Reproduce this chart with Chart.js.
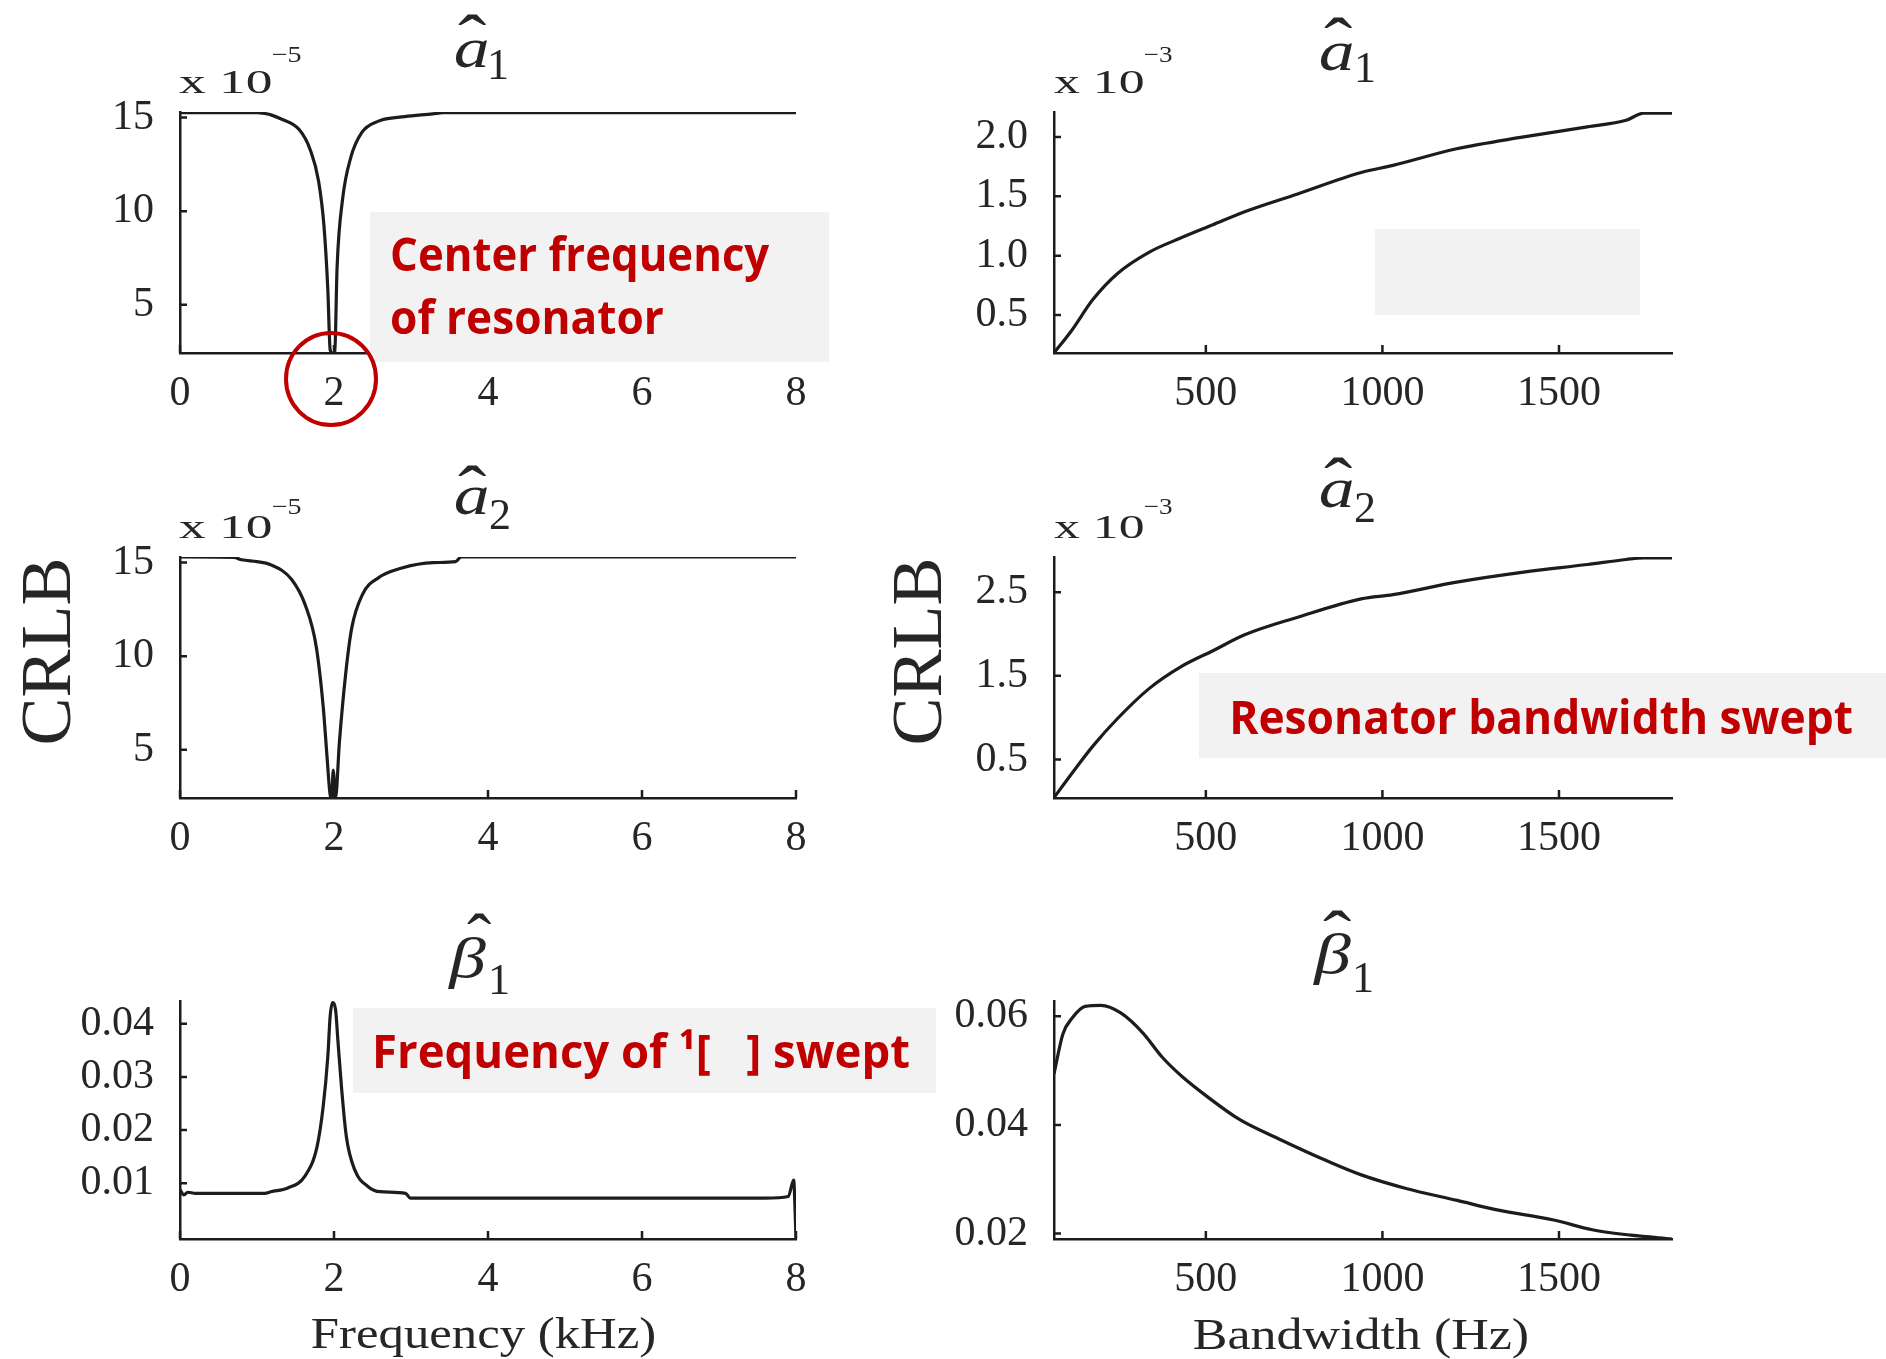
<!DOCTYPE html>
<html lang="en">
<head>
  <meta charset="UTF-8">
  <title>CRLB vs resonator sweeps</title>
  <script src="https://cdn.jsdelivr.net/npm/chart.js@4.4.1/dist/chart.umd.min.js"></script>
  <style>
    html, body { margin: 0; padding: 0; background: #fff; }
    #fig { position: relative; width: 1886px; height: 1359px; overflow: hidden; background: #fff; }
    #fig canvas { position: absolute; }
  </style>
</head>
<body>
  <div id="fig">
    <canvas id="c1" width="950" height="430" style="left:0;top:0"></canvas>
    <canvas id="c2" width="950" height="450" style="left:0;top:430px"></canvas>
    <canvas id="c3" width="950" height="479" style="left:0;top:880px"></canvas>
    <canvas id="c4" width="1026" height="430" style="left:860px;top:0"></canvas>
    <canvas id="c5" width="1026" height="450" style="left:860px;top:430px"></canvas>
    <canvas id="c6" width="1026" height="479" style="left:860px;top:880px"></canvas>
  </div>

  <script>
    // ---- data ----
    const freqTicks = [0, 2, 4, 6, 8];
    const freqTickLabels = ['0', '2', '4', '6', '8'];
    const bwTicks = [500, 1000, 1500];
    const bwTickLabels = ['500', '1000', '1500'];

    // a1 vs centre frequency (kHz), x 10^-5
    const freqA1 = [0, 0.5, 1.0, 1.1, 1.2, 1.3, 1.55, 1.69, 1.8, 1.87, 1.92, 1.95, 1.98, 2.01, 2.04, 2.11, 2.22, 2.36, 2.57, 2.92, 3.28, 3.42, 4, 6, 8];
    const crlbA1Freq = [15.27, 15.27, 15.27, 15.22, 15.12, 14.95, 14.35, 13.3, 11.6, 9.2, 5.8, 2.6, 2.43, 2.5, 7.0, 10.6, 12.9, 14.2, 14.8, 15.05, 15.2, 15.27, 15.27, 15.27, 15.27];
    const a1FreqYTicks = [5, 10, 15];
    const a1FreqYLabels = ['5', '10', '15'];

    // a2 vs centre frequency (kHz), x 10^-5
    const freqA2 = [0, 0.7, 0.8, 1.0, 1.17, 1.45, 1.63, 1.77, 1.86, 1.91, 1.95, 1.97, 1.99, 2.02, 2.07, 2.15, 2.23, 2.37, 2.58, 2.87, 3.29, 3.58, 3.65, 8];
    const crlbA2Freq = [15.3, 15.28, 15.15, 15.05, 14.9, 14.1, 12.7, 10.5, 7.3, 4.6, 2.6, 2.43, 3.9, 2.43, 5.4, 9.0, 11.5, 13.3, 14.2, 14.7, 15.0, 15.05, 15.3, 15.3];
    const a2FreqYTicks = [5, 10, 15];
    const a2FreqYLabels = ['5', '10', '15'];

    // beta1 vs centre frequency (kHz)
    const freqB1 = [0, 0.05, 0.1, 0.2, 1.1, 1.18, 1.4, 1.62, 1.78, 1.86, 1.92, 1.95, 1.98, 2.02, 2.05, 2.1, 2.16, 2.27, 2.44, 2.6, 2.93, 2.99, 7.6, 7.9, 7.97, 7.99, 8.0];
    const crlbB1Freq = [0.0088, 0.0078, 0.0083, 0.0081, 0.0081, 0.0084, 0.0091, 0.0113, 0.0169, 0.0245, 0.0339, 0.0414, 0.044, 0.0427, 0.037, 0.0276, 0.0188, 0.0125, 0.0094, 0.0084, 0.0081, 0.0072, 0.0072, 0.0075, 0.0106, 0.004, -0.0005];
    const b1FreqYTicks = [0.01, 0.02, 0.03, 0.04];
    const b1FreqYLabels = ['0.01', '0.02', '0.03', '0.04'];

    // a1, a2 vs bandwidth (Hz), x 10^-3
    const bandwidthHz = [70, 120, 180, 250, 340, 430, 520, 610, 760, 940, 1030, 1210, 1400, 1580, 1690, 1740, 1820];
    const crlbA1Bw = [0.18, 0.37, 0.63, 0.85, 1.03, 1.15, 1.26, 1.37, 1.52, 1.7, 1.76, 1.9, 2.0, 2.085, 2.14, 2.2, 2.2];
    const crlbA2Bw = [0.045, 0.33, 0.66, 0.99, 1.35, 1.61, 1.80, 1.99, 2.2, 2.42, 2.47, 2.62, 2.74, 2.83, 2.89, 2.91, 2.91];
    const a1BwYTicks = [0.5, 1.0, 1.5, 2.0];
    const a1BwYLabels = ['0.5', '1.0', '1.5', '2.0'];
    const a2BwYTicks = [0.5, 1.5, 2.5];
    const a2BwYLabels = ['0.5', '1.5', '2.5'];

    // beta1 vs bandwidth (Hz)
    const bandwidthB1 = [70, 95, 122, 158, 203, 259, 322, 376, 431, 504, 595, 704, 849, 940, 1067, 1212, 1321, 1485, 1594, 1704, 1820];
    const crlbB1Bw = [0.0494, 0.0567, 0.0597, 0.0618, 0.062, 0.0606, 0.0569, 0.0525, 0.049, 0.0452, 0.041, 0.0375, 0.0332, 0.0308, 0.0283, 0.0261, 0.0244, 0.0225, 0.0207, 0.0197, 0.019];
    const b1BwYTicks = [0.02, 0.04, 0.06];
    const b1BwYLabels = ['0.02', '0.04', '0.06'];

    // ---- drawing helpers ----
    const INK = '#1c1c1c';
    const TXT = '#262626';
    const RED = '#c00000';
    const SERIF = '"Liberation Serif", "Times New Roman", serif';
    const SANS = '"Open Sans", "Noto Sans", sans-serif';

    // put a string so its ink box starts at (left, top); optionally stretch to width
    function placeText(ctx, str, font, left, top, width, color) {
      ctx.save();
      ctx.font = font;
      ctx.fillStyle = color || TXT;
      ctx.textAlign = 'left';
      ctx.textBaseline = 'alphabetic';
      const m = ctx.measureText(str);
      const inkW = m.actualBoundingBoxLeft + m.actualBoundingBoxRight;
      const sx = width ? width / inkW : 1;
      ctx.translate(left, top + m.actualBoundingBoxAscent);
      ctx.scale(sx, 1);
      ctx.fillText(str, m.actualBoundingBoxLeft, 0);
      ctx.restore();
    }

    // same, but positioned by baseline
    function placeOnBaseline(ctx, str, font, left, base, width, color) {
      ctx.save();
      ctx.font = font;
      ctx.fillStyle = color || TXT;
      ctx.textAlign = 'left';
      ctx.textBaseline = 'alphabetic';
      const m = ctx.measureText(str);
      const inkW = m.actualBoundingBoxLeft + m.actualBoundingBoxRight;
      const sx = width ? width / inkW : 1;
      ctx.translate(left, base);
      ctx.scale(sx, 1);
      ctx.fillText(str, m.actualBoundingBoxLeft, 0);
      ctx.restore();
    }

    const innerTicks = {
      id: 'innerTicks',
      afterDraw(chart) {
        const ctx = chart.ctx;
        const {x, y} = chart.scales;
        const a = chart.chartArea;
        ctx.save();
        ctx.strokeStyle = INK;
        ctx.lineWidth = 2.5;
        ctx.beginPath();
        x.ticks.forEach(t => {
          const px = x.getPixelForValue(t.value);
          ctx.moveTo(px, a.bottom);
          ctx.lineTo(px, a.bottom - 8);
        });
        y.ticks.forEach(t => {
          const py = y.getPixelForValue(t.value);
          ctx.moveTo(a.left, py);
          ctx.lineTo(a.left + 7, py);
        });
        ctx.stroke();
        ctx.restore();
      }
    };

    const figText = {
      id: 'figText',
      afterDraw(chart, args, o) {
        const ctx = chart.ctx;
        ctx.save();
        ctx.translate(-o.offX, -o.offY);
        (o.boxes || []).forEach(b => {
          ctx.fillStyle = '#f2f2f2';
          ctx.fillRect(b.x, b.y, b.w, b.h);
        });
        if (o.title) {
          const t = o.title;
          placeText(ctx, t.letter, 'italic ' + t.size + 'px ' + SERIF, t.lx, t.ly, t.lw, TXT);
          placeText(ctx, t.sub, '44px ' + SERIF, t.sx, t.sy, null, TXT);
          placeText(ctx, '\u02C6', '70px ' + SERIF, t.hx, t.hy, t.hw, TXT);
        }
        if (o.exponent) {
          const e = o.exponent;
          placeText(ctx, 'x 10', '34px ' + SERIF, e.x, e.y, e.w, TXT);
          placeText(ctx, e.power, '23px ' + SERIF, e.px, e.py, e.pw, TXT);
        }
        if (o.ylabel) {
          const l = o.ylabel;
          ctx.save();
          ctx.translate(l.cx, l.cy);
          ctx.rotate(-Math.PI / 2);
          ctx.font = '72px ' + SERIF;
          const m = ctx.measureText(l.text);
          const h = m.actualBoundingBoxAscent + m.actualBoundingBoxDescent;
          placeText(ctx, l.text, '72px ' + SERIF, -l.w / 2, -h / 2, l.w, TXT);
          ctx.restore();
        }
        if (o.xlabel) {
          const l = o.xlabel;
          placeText(ctx, l.text, '45px ' + SERIF, l.x, l.y, l.w, TXT);
        }
        (o.notes || []).forEach(n => {
          placeOnBaseline(ctx, n.text, 'bold 46px ' + SANS, n.x, n.base, n.w, RED);
        });
        if (o.circle) {
          const c = o.circle;
          ctx.strokeStyle = RED;
          ctx.lineWidth = 4;
          ctx.beginPath();
          ctx.ellipse(c.x, c.y, c.rx, c.ry, 0, 0, Math.PI * 2);
          ctx.stroke();
        }
        ctx.restore();
      }
    };

    function makePanel(id, p) {
      const canvas = document.getElementById(id);
      const W = canvas.width, H = canvas.height;
      const area = {
        left: p.area.left - p.offX, right: p.area.right - p.offX,
        top: p.area.top - p.offY, bottom: p.area.bottom - p.offY
      };
      const tickFont = {family: SERIF, size: 42};
      return new Chart(canvas, {
        type: 'line',
        data: {
          datasets: [{
            data: p.xs.map((v, i) => ({x: v, y: p.ys[i]})),
            borderColor: INK,
            borderWidth: 3.2,
            pointRadius: 0,
            fill: false,
            cubicInterpolationMode: 'monotone'
          }]
        },
        options: {
          responsive: false,
          animation: false,
          events: [],
          layout: {padding: {left: 0, top: area.top, right: W - area.right, bottom: 0}},
          plugins: {
            legend: {display: false},
            tooltip: {enabled: false},
            figText: Object.assign({offX: p.offX, offY: p.offY}, p.text)
          },
          scales: {
            x: {
              type: 'linear',
              min: p.xMin, max: p.xMax,
              afterBuildTicks: s => { s.ticks = p.xTicks.map(v => ({value: v})); },
              afterFit: s => { s.height = H - area.bottom; },
              grid: {display: false},
              border: {display: true, color: INK, width: 2.5},
              ticks: {
                font: tickFont, color: TXT, padding: 8, autoSkip: false, maxRotation: 0,
                callback: (v, i) => p.xLabels[i]
              }
            },
            y: {
              type: 'linear',
              min: p.yMin, max: p.yMax,
              afterBuildTicks: s => { s.ticks = p.yTicks.map(v => ({value: v})); },
              afterFit: s => { s.width = area.left; },
              grid: {display: false},
              border: {display: true, color: INK, width: 2.5},
              ticks: {
                font: tickFont, color: TXT, padding: 18, autoSkip: false,
                callback: (v, i) => p.yLabels[i]
              }
            }
          }
        },
        plugins: [innerTicks, figText]
      });
    }

    const LEFT = {left: 180, right: 796};
    const RIGHT = {left: 1054, right: 1672};

    makePanel('c1', {
      offX: 0, offY: 0,
      area: {left: LEFT.left, right: LEFT.right, top: 112, bottom: 353},
      xs: freqA1, ys: crlbA1Freq, xMin: 0, xMax: 8, xTicks: freqTicks, xLabels: freqTickLabels,
      yMin: 2.43, yMax: 15.3, yTicks: a1FreqYTicks, yLabels: a1FreqYLabels,
      text: {
        title: {letter: 'a', size: 56, lx: 455, ly: 40, lw: 32, sub: '1', sx: 490, sy: 50, hx: 458, hy: 14, hw: 28},
        exponent: {x: 179, y: 71, w: 92, power: '\u22125', px: 273, py: 47, pw: 28},
        boxes: [{x: 370, y: 212, w: 459, h: 150}],
        notes: [
          {text: 'Center frequency', x: 392, base: 271, w: 378},
          {text: 'of resonator', x: 392, base: 334, w: 271}
        ],
        circle: {x: 331, y: 379, rx: 45, ry: 46}
      }
    });

    makePanel('c2', {
      offX: 0, offY: 430,
      area: {left: LEFT.left, right: LEFT.right, top: 557, bottom: 798},
      xs: freqA2, ys: crlbA2Freq, xMin: 0, xMax: 8, xTicks: freqTicks, xLabels: freqTickLabels,
      yMin: 2.43, yMax: 15.3, yTicks: a2FreqYTicks, yLabels: a2FreqYLabels,
      text: {
        title: {letter: 'a', size: 56, lx: 455, ly: 487, lw: 32, sub: '2', sx: 490, sy: 500, hx: 458, hy: 465, hw: 28},
        exponent: {x: 179, y: 516, w: 92, power: '\u22125', px: 273, py: 499, pw: 28},
        ylabel: {text: 'CRLB', cx: 46, cy: 652, w: 183}
      }
    });

    makePanel('c3', {
      offX: 0, offY: 880,
      area: {left: LEFT.left, right: LEFT.right, top: 1001, bottom: 1239},
      xs: freqB1, ys: crlbB1Freq, xMin: 0, xMax: 8, xTicks: freqTicks, xLabels: freqTickLabels,
      yMin: -0.0005, yMax: 0.0443, yTicks: b1FreqYTicks, yLabels: b1FreqYLabels,
      text: {
        title: {letter: '\u03B2', size: 56, lx: 448, ly: 937, lw: 38, sub: '1', sx: 491, sy: 965, hx: 467, hy: 913, hw: 24},
        xlabel: {text: 'Frequency (kHz)', x: 312, y: 1317, w: 343},
        boxes: [{x: 353, y: 1008, w: 583, h: 85}],
        notes: [{text: 'Frequency of \u00B9[   ] swept', x: 376, base: 1068, w: 533}]
      }
    });

    makePanel('c4', {
      offX: 860, offY: 0,
      area: {left: RIGHT.left, right: RIGHT.right, top: 112, bottom: 353},
      xs: bandwidthHz, ys: crlbA1Bw, xMin: 70, xMax: 1820, xTicks: bwTicks, xLabels: bwTickLabels,
      yMin: 0.18, yMax: 2.21, yTicks: a1BwYTicks, yLabels: a1BwYLabels,
      text: {
        title: {letter: 'a', size: 56, lx: 1320, ly: 43, lw: 32, sub: '1', sx: 1357, sy: 53, hx: 1324, hy: 17, hw: 28},
        exponent: {x: 1054, y: 71, w: 89, power: '\u22123', px: 1145, py: 47, pw: 27},
        boxes: [{x: 1375, y: 229, w: 265, h: 86}]
      }
    });

    makePanel('c5', {
      offX: 860, offY: 430,
      area: {left: RIGHT.left, right: RIGHT.right, top: 557, bottom: 798},
      xs: bandwidthHz, ys: crlbA2Bw, xMin: 70, xMax: 1820, xTicks: bwTicks, xLabels: bwTickLabels,
      yMin: 0.04, yMax: 2.92, yTicks: a2BwYTicks, yLabels: a2BwYLabels,
      text: {
        title: {letter: 'a', size: 56, lx: 1320, ly: 480, lw: 32, sub: '2', sx: 1355, sy: 493, hx: 1324, hy: 457, hw: 28},
        exponent: {x: 1054, y: 516, w: 89, power: '\u22123', px: 1145, py: 499, pw: 27},
        ylabel: {text: 'CRLB', cx: 917, cy: 652, w: 183},
        boxes: [{x: 1199, y: 673, w: 687, h: 85}],
        notes: [{text: 'Resonator bandwidth swept', x: 1233, base: 734, w: 619}]
      }
    });

    makePanel('c6', {
      offX: 860, offY: 880,
      area: {left: RIGHT.left, right: RIGHT.right, top: 1001, bottom: 1239},
      xs: bandwidthB1, ys: crlbB1Bw, xMin: 70, xMax: 1820, xTicks: bwTicks, xLabels: bwTickLabels,
      yMin: 0.019, yMax: 0.0628, yTicks: b1BwYTicks, yLabels: b1BwYLabels,
      text: {
        title: {letter: '\u03B2', size: 56, lx: 1313, ly: 933, lw: 38, sub: '1', sx: 1355, sy: 963, hx: 1323, hy: 910, hw: 28},
        xlabel: {text: 'Bandwidth (Hz)', x: 1194, y: 1317, w: 334}
      }
    });
  </script>
</body>
</html>
